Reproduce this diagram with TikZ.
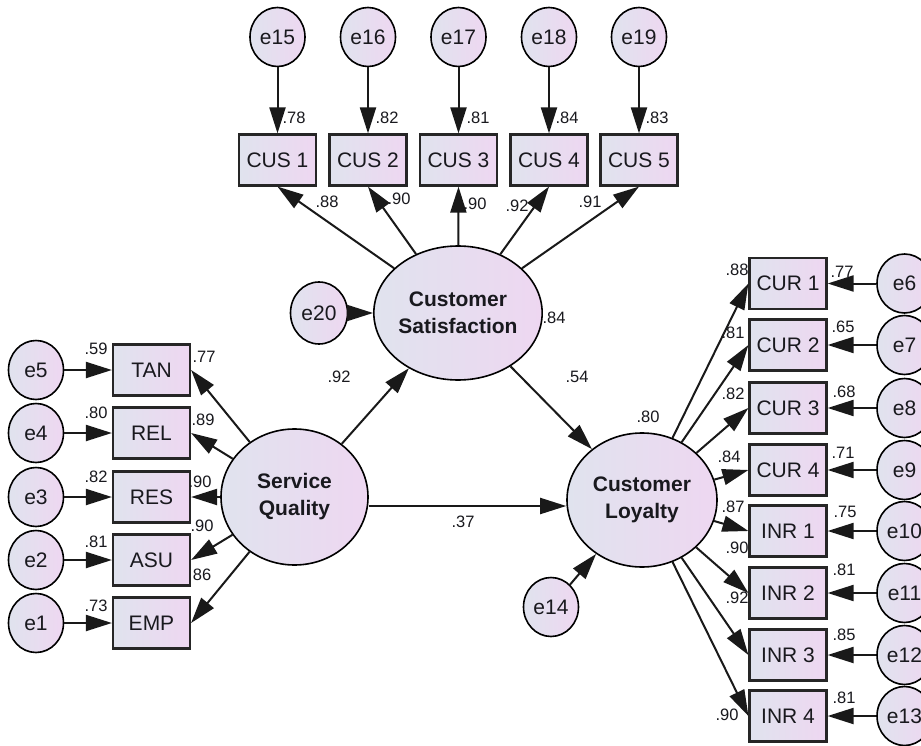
\documentclass[tikz,border=0pt]{standalone}
\usepackage{fontspec}
\setmainfont{Liberation Sans}
\usetikzlibrary{shapes.geometric,arrows.meta,calc}
\definecolor{fillL}{RGB}{224,227,238}
\definecolor{fillR}{RGB}{238,215,241}
\definecolor{txt}{RGB}{25,25,30}
\tikzset{
  base/.style={draw=black, line width=1.6pt, left color=fillL, right color=fillR, text=txt},
  err/.style={base, ellipse, minimum width=55pt, minimum height=59pt, inner sep=0pt, font=\fontsize{21}{24}\selectfont},
  lat/.style={base, ellipse, inner sep=0pt, align=center, font=\fontsize{21}{27}\selectfont\bfseries},
  obs/.style={base, rectangle, draw=black!85, line width=2.2pt, minimum width=77pt, minimum height=51pt, inner sep=0pt, font=\fontsize{21}{24}\selectfont},
  lab/.style={inner sep=0pt, text=txt, font=\fontsize{16.5}{17}\selectfont},
  arr/.style={-{Triangle[length=26pt,width=16pt]}, line width=2pt, draw=black!90},
}
\begin{document}
\begin{tikzpicture}[x=1pt,y=-1pt]
\fill[white] (0,0) rectangle (921,746);
\useasboundingbox (0,0) rectangle (921,746);

% latent variables
\node[lat, minimum width=146pt, minimum height=134pt] (CS) at (458,313) {Customer\\Satisfaction};
\node[lat, minimum width=147pt, minimum height=136pt] (SQ) at (294.5,497) {Service\\Quality};
\node[lat, minimum width=150pt, minimum height=134pt] (CL) at (642,500) {Customer\\Loyalty};

% top indicators
\foreach \n/\x/\e in {1/277.5/15, 2/368/16, 3/458.5/17, 4/549/18, 5/639/19}{
  \node[obs] (CUS\n) at (\x,160) {CUS \n};
  \node[err] (e\e) at (\x,37) {e\e};
  \draw[arr] (e\e) -- (CUS\n);
  \draw[arr] (CS) -- (CUS\n.south);
}
% left indicators
\foreach \n/\y/\e in {TAN/370/5, REL/433/4, RES/497/3, ASU/560/2, EMP/623/1}{
  \node[obs] (\n) at (151.5,\y) {\n};
  \node[err] (e\e) at (36,\y) {e\e};
  \draw[arr] (e\e) -- (\n);
  \draw[arr] (SQ) -- (\n.east);
}
% right indicators
\foreach \n/\y/\e in {CUR1/283.5/6, CUR2/345/7, CUR3/408/8, CUR4/470/9, INR1/531/10, INR2/593/11, INR3/655/12, INR4/716/13}{
  \node[err] (e\e) at (904.5,\y) {e\e};
}
\node[obs] (CUR1) at (788,283.5) {CUR 1};
\node[obs] (CUR2) at (788,345) {CUR 2};
\node[obs] (CUR3) at (788,408) {CUR 3};
\node[obs] (CUR4) at (788,470) {CUR 4};
\node[obs] (INR1) at (788,531) {INR 1};
\node[obs] (INR2) at (788,593) {INR 2};
\node[obs] (INR3) at (788,655) {INR 3};
\node[obs] (INR4) at (788,716) {INR 4};
\foreach \n/\e in {CUR1/6, CUR2/7, CUR3/8, CUR4/9, INR1/10, INR2/11, INR3/12, INR4/13}{
  \draw[arr] (e\e) -- (\n);
  \draw[arr] (CL) -- (\n.west);
}

% disturbances
\node[err, minimum width=57pt, minimum height=62pt] (e20) at (319,313) {e20};
\node[err] (e14) at (551,607) {e14};
\draw[arr] (e20) -- (CS);
\draw[arr] (e14) -- (CL);

% structural paths
\draw[arr] (SQ) -- (CS);
\draw[arr] (CS) -- (CL);
\coordinate (sqout) at ($(SQ.east)+(0,9)$);
\draw[arr] (sqout) -- (CL.west |- sqout);

% labels: top
\node[lab] (l78) at (294,118) {.78};
\node[lab] (l82t) at (387,118) {.82};
\node[lab] (l81t) at (478,118) {.81};
\node[lab] (l84t) at (567,118) {.84};
\node[lab] (l83t) at (657,118) {.83};
\node[lab] (l88c) at (327,202) {.88};
\node[lab] (l90c) at (399,199) {.90};
\node[lab] (l90d) at (475,204) {.90};
\node[lab] (l92c) at (517,206) {.92};
\node[lab] (l91c) at (590,202) {.91};
% structural labels
\node[lab] (l92s) at (339,377) {.92};
\node[lab] (l54) at (577,377) {.54};
\node[lab] (l84s) at (554,318) {.84};
\node[lab] (l37) at (463,522) {.37};
\node[lab] (l80s) at (648,417) {.80};
% left labels
\node[lab] (l59) at (96,349) {.59};
\node[lab] (l80l) at (96,413) {.80};
\node[lab] (l82l) at (96,477) {.82};
\node[lab] (l81l) at (96,542) {.81};
\node[lab] (l73l) at (96,606) {.73};
\node[lab] (l77q) at (204,357) {.77};
\node[lab] (l89q) at (203,420) {.89};
\node[lab] (l90q) at (200,482) {.90};
\node[lab] (l90r) at (202,526) {.90};
\node[lab] (l86q) at (202,575) {86};
% right labels (loadings)
\node[lab] (r88) at (737,270) {.88};
\node[lab] (r81) at (733,333) {.81};
\node[lab] (r82) at (733,394) {.82};
\node[lab] (r84) at (729,457) {.84};
\node[lab] (r87) at (733,507) {.87};
\node[lab] (r90) at (737,548) {.90};
\node[lab] (r92) at (737,598) {.92};
\node[lab] (r90b) at (727,715) {.90};
% right labels (r-squared)
\node[lab] (s77) at (842,272) {.77};
\node[lab] (s65) at (843,327) {.65};
\node[lab] (s68) at (844,392) {.68};
\node[lab] (s71) at (843,453) {.71};
\node[lab] (s75) at (845,512) {.75};
\node[lab] (s81) at (844,570) {.81};
\node[lab] (s85) at (844,635) {.85};
\node[lab] (s81b) at (844,698) {.81};
\end{tikzpicture}
\end{document}
